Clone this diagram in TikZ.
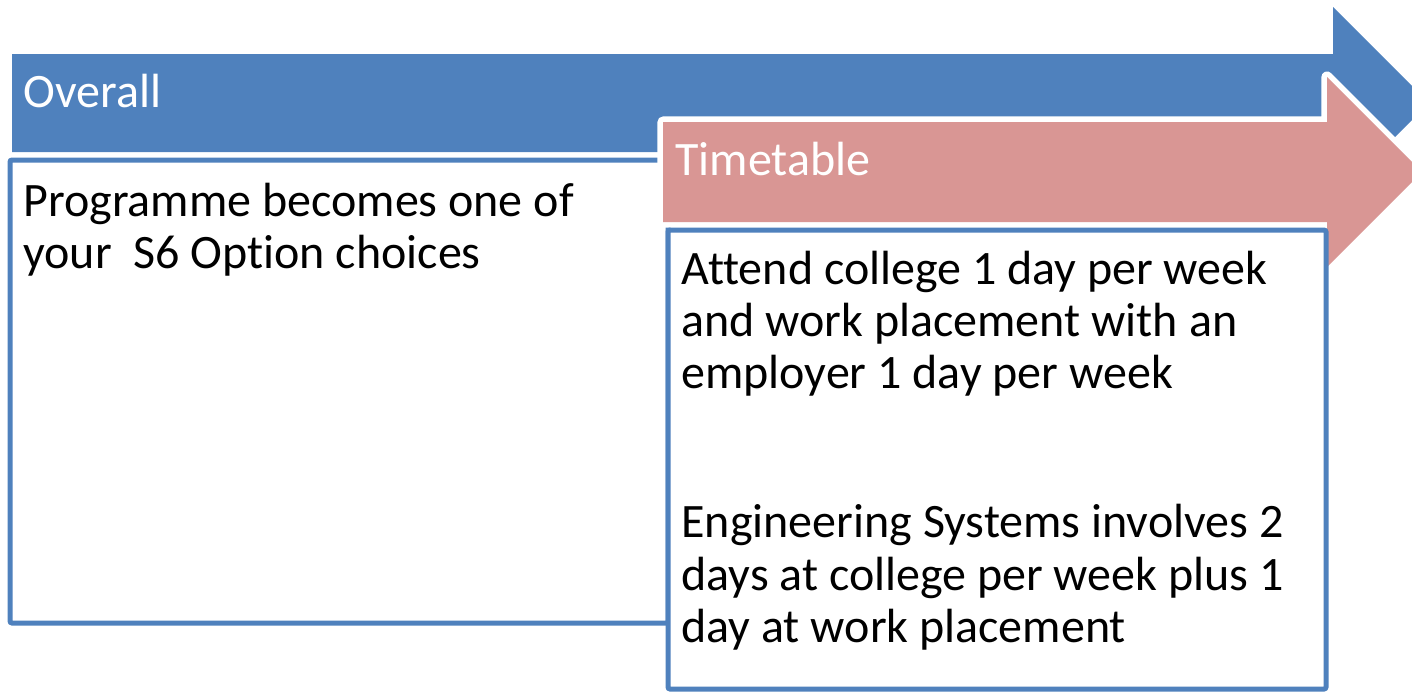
\documentclass[tikz,border=0pt]{standalone}
\usepackage{fontspec}
\setmainfont{Carlito}[Ligatures={NoCommon,NoDiscretionary,NoRare}]
\definecolor{accblue}{HTML}{4F81BD}
\definecolor{accpink}{HTML}{D99694}
\tikzset{
  bodytext/.style={anchor=base west, inner sep=0pt, font=\fontsize{24pt}{26pt}\selectfont, text=black},
  headtext/.style={bodytext, text=white},
  panel/.style={draw=accblue, line width=2.5pt, fill=white, rounded corners=1pt, anchor=north west, inner sep=0pt, outer sep=0pt},
}
\begin{document}
\begin{tikzpicture}[x=0.5pt,y=-0.5pt]
\useasboundingbox (0,0) rectangle (1412,691);
\clip (0,0) rectangle (1412,691);
% blue arrow
\fill[accblue] (12,54) -- (1333,54) -- (1333,7) -- (1429,103) -- (1333,199) -- (1333,152) -- (12,152) -- cycle;
% overall panel
\node[panel, minimum width=329pt, minimum height=231.5pt] (overallbox) at (10,160) {};
% pink arrow with white outline
\path[fill=accpink, preaction={draw=white, line width=5.6pt, line join=round}]
  (663,122) -- (1327,122) -- (1327,77) -- (1422,172) -- (1327,267) -- (1327,222) -- (663,222) -- cycle;
% timetable panel
\node[panel, minimum width=329pt, minimum height=229.5pt] (timebox) at (668,230) {};
% texts
\node[headtext] (overall) at (23,107) {Overall};
\node[headtext] (timetable) at (675,175) {Timetable};
\node[bodytext] (p1) at (23,216) {Programme becomes one of};
\node[bodytext] (p2) at (23,268) {your\ \ S6 Option choices};
\node[bodytext] (t1) at (681,284) {Attend college 1 day per week};
\node[bodytext] (t2) at (681,336) {and work placement with an};
\node[bodytext] (t3) at (681,388) {employer 1 day per week};
\node[bodytext] (e1) at (681,537) {Engineering Systems involves 2};
\node[bodytext] (e2) at (681,590) {days at college per week plus 1};
\node[bodytext] (e3) at (681,642) {day at work placement};
\end{tikzpicture}
\end{document}
